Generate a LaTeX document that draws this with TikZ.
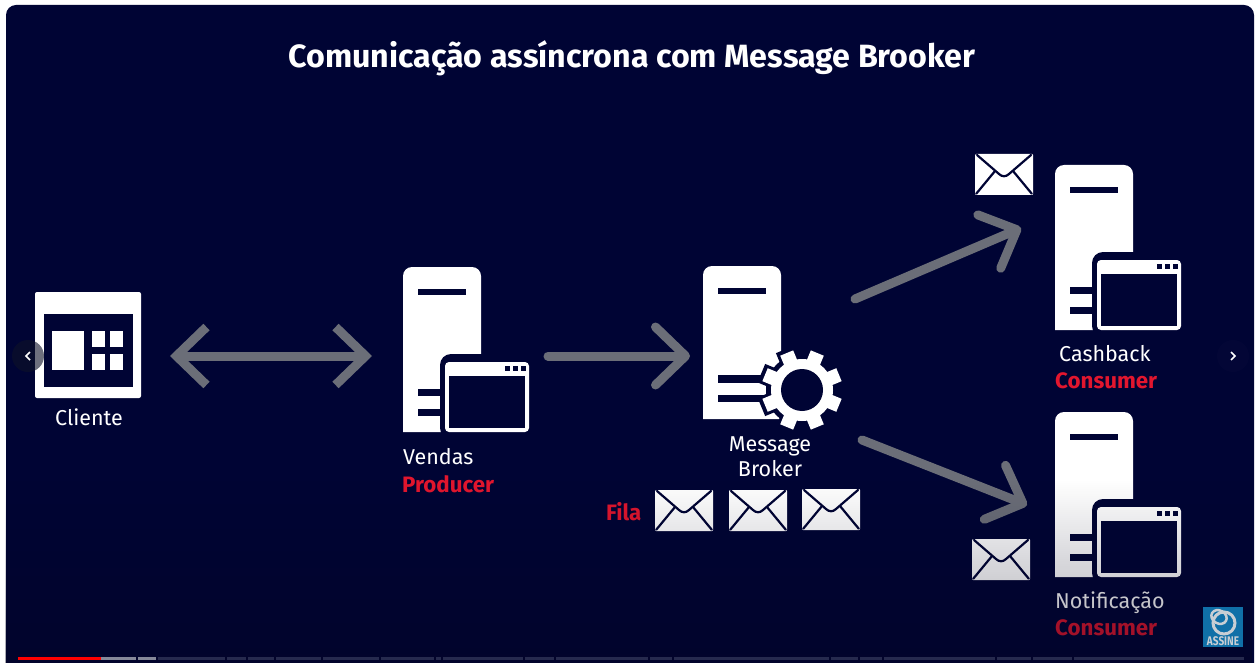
\documentclass[tikz,border=0pt]{standalone}
\usepackage{fontspec}
\setmainfont{Fira Sans}
\usepackage{xcolor}
\usepackage{tikz}
\usetikzlibrary{arrows.meta,positioning,fadings}
\definecolor{dcPanel}{RGB}{0,4,52}
\definecolor{dcFlow}{RGB}{107,110,120}
\definecolor{dcRed}{RGB}{226,22,46}
\definecolor{dcLogo}{RGB}{16,112,168}
\definecolor{dcRing}{RGB}{200,206,212}
\definecolor{dcTrack}{RGB}{38,42,78}
\definecolor{dcSeen}{RGB}{134,137,154}
\definecolor{dcShade}{RGB}{6,6,30}
\definecolor{dcNav}{RGB}{14,18,40}
\tikzfading[name=fadebottom, top color=transparent!100, bottom color=transparent!65]
\tikzset{
  port/.style={inner sep=0pt, outer sep=0pt, minimum height=100pt},
  flow/.style={draw=dcFlow, line width=9pt, line cap=round,
    -{Straight Barb[round,length=30pt,width=58pt]}},
  lbl/.style={text=white, font=\fontsize{21.5}{24}\selectfont, anchor=base west, inner sep=0pt},
  tag/.style={text=dcRed, font=\fontsize{22.3}{24}\selectfont\bfseries, anchor=base west, inner sep=0pt},
}
% tower without window
\newcommand{\towerbody}[3]{
  \begin{scope}[shift={(#1,#2)}]
    \fill[white] (0,#3) [rounded corners=9pt] -- (0,0) -- (78,0) [sharp corners] -- (78,#3) -- cycle;
    \fill[dcPanel] (15,22) rectangle (63,28);
  \end{scope}
}
% tower with window in front
\newcommand{\towerwin}[2]{
  \towerbody{#1}{#2}{165}
  \begin{scope}[shift={(#1,#2)}]
    \fill[dcPanel] (15,122) rectangle (40,129);
    \fill[dcPanel] (15,142) rectangle (40,149);
    \fill[dcPanel, rounded corners=11pt] (37,87) rectangle (134,172);
    \fill[white, rounded corners=4pt] (42,95) rectangle (126,165);
    \fill[dcPanel] (46,109) rectangle (122,161);
    \foreach \dx in {102,110,118} {
      \fill[dcPanel] (\dx,99) rectangle ++(5,5);
    }
  \end{scope}
}
\newcommand{\mailicon}[2]{
  \begin{scope}[shift={(#1,#2)}]
    \fill[white] (0,1) -- (1,0) -- (57,0) -- (58,1) -- (58,40) -- (57,41) -- (1,41) -- (0,40) -- cycle;
    \draw[dcPanel, line width=2.2pt, line cap=round] (2,1) -- (24,20) .. controls (27,23) and (31,23) .. (34,20) -- (56,1);
    \draw[dcPanel, line width=2.2pt] (1,40) -- (20,17) (57,40) -- (38,17);
  \end{scope}
}
\begin{document}
\begin{tikzpicture}[x=1pt, y=-1pt]
  \useasboundingbox (0,0) rectangle (1260,663);
  \fill[white] (0,0) rectangle (1260,663);
  \fill[dcPanel, rounded corners=10pt] (6,5) rectangle (1254,680);

  \node[text=white, font=\fontsize{32.2}{34}\selectfont\bfseries, anchor=base, inner sep=0pt] (title) at (632,68) {Comunicação assíncrona com Message Brooker};

  % invisible nodes the arrows run between
  \node[port, minimum width=164pt] (client) at (88,356) {};
  \node[port, minimum width=176pt] (vendas) at (460,356) {};
  \node[port, minimum width=165pt, minimum height=114pt] (broker) at (772.5,356) {};
  \node[port, minimum width=160pt] (cashback) at (1101,228) {};
  \node[port, minimum width=154pt] (notif) at (1104,505) {};

  % client window
  \fill[white, rounded corners=2pt] (35,292) rectangle (141,398);
  \fill[dcPanel] (44,314) rectangle (133,387);
  \fill[white] (52,331) rectangle (84,370);
  \foreach \px/\py in {92/331,110/331,92/354,110/354} {
    \fill[white] (\px,\py) rectangle ++(13,16);
  }

  \towerwin{403}{267}
  \towerwin{1055}{165}
  \towerwin{1055}{412}

  % broker tower and gear
  \towerbody{703}{266}{153}
  \fill[dcPanel] (718,375) rectangle (775,383);
  \fill[dcPanel] (718,395) rectangle (775,402);
  \foreach \ang in {22.5,67.5,...,337.5} {
    \draw[dcPanel, line width=20pt] (802,390) ++(\ang:25) -- ++(\ang:19);
  }
  \fill[dcPanel] (802,390) circle (36);
  \foreach \ang in {22.5,67.5,...,337.5} {
    \draw[white, line width=14pt] (802,390) ++(\ang:25) -- ++(\ang:15);
  }
  \fill[white] (802,390) circle (31);
  \fill[dcPanel] (802,390) circle (21);

  \mailicon{975}{154}
  \mailicon{972}{539}
  \mailicon{655}{490}
  \mailicon{729}{490}
  \mailicon{802}{489}

  % connectors
  \draw[flow, line cap=butt, {Straight Barb[length=30pt,width=58pt]}-{Straight Barb[length=30pt,width=58pt]}] (client.east) -- (vendas.west);
  \draw[flow] (vendas.east) -- (broker.west);
  \draw[flow] (broker.north east) -- (cashback.west);
  \draw[flow] ([xshift=7pt,yshift=-27pt]broker.south east) -- (notif.west);

  % labels
  \node[lbl] (clientelbl) at (55,425) {Cliente};
  \node[lbl] (vendaslbl) at (403,464) {Vendas};
  \node[tag] (producerlbl) at (402,492) {Producer};
  \node[lbl, anchor=base] (msglbl) at (770,451) {Message};
  \node[lbl, anchor=base] (brokerlbl) at (770,476) {Broker};
  \node[tag] (filalbl) at (606,520) {Fila};
  \node[lbl] (cashlbl) at (1059,361) {Cashback};
  \node[tag] (conslbl) at (1055,388) {Consumer};
  \node[lbl] (notiflbl) at (1055,608) {Notificação};
  \node[tag] (conslbltwo) at (1055,635) {Consumer};

  % video player on top
  \fill[dcShade, path fading=fadebottom] (6,480) rectangle (1254,663);
  \fill[dcNav, opacity=.6] (28,356) circle (16);
  \fill[dcPanel!80!white, opacity=.06] (1233,356) circle (16);
  \draw[white, line width=1.5pt] (30,352) -- (26,356) -- (30,360);
  \draw[white, line width=1.5pt] (1231,352) -- (1235,356) -- (1231,360);
  \fill[red] (18,657) rectangle (101,660);
  \foreach \xa/\xb in {101/136,138/156} {
    \fill[dcSeen] (\xa,657) rectangle (\xb,660);
  }
  \foreach \xa/\xb in {158/225,227/246,248/274,276/321,323/379,381/434,436/441,443/523,525/553.7,556/648,650/672,674/829,831/858,860/882,884/995,997/1031,1033/1072,1074/1244} {
    \fill[dcTrack] (\xa,657) rectangle (\xb,660);
  }

  % channel logo
  \node[fill=dcLogo, minimum size=40pt, inner sep=0pt] (logo) at (1223,627) {};
  \draw[dcRing, line width=3pt] (1224,623) circle (11);
  \draw[dcRing, line width=2.5pt, rotate around={-30:(1219,617)}] (1219,617) ellipse (8 and 6.5);
  \node[text=dcRing, font=\fontsize{12.5}{12}\selectfont\bfseries, anchor=base, inner sep=0pt] (logotxt) at (1223,645) {\scalebox{.8}[1]{ASSINE}};
\end{tikzpicture}
\end{document}
